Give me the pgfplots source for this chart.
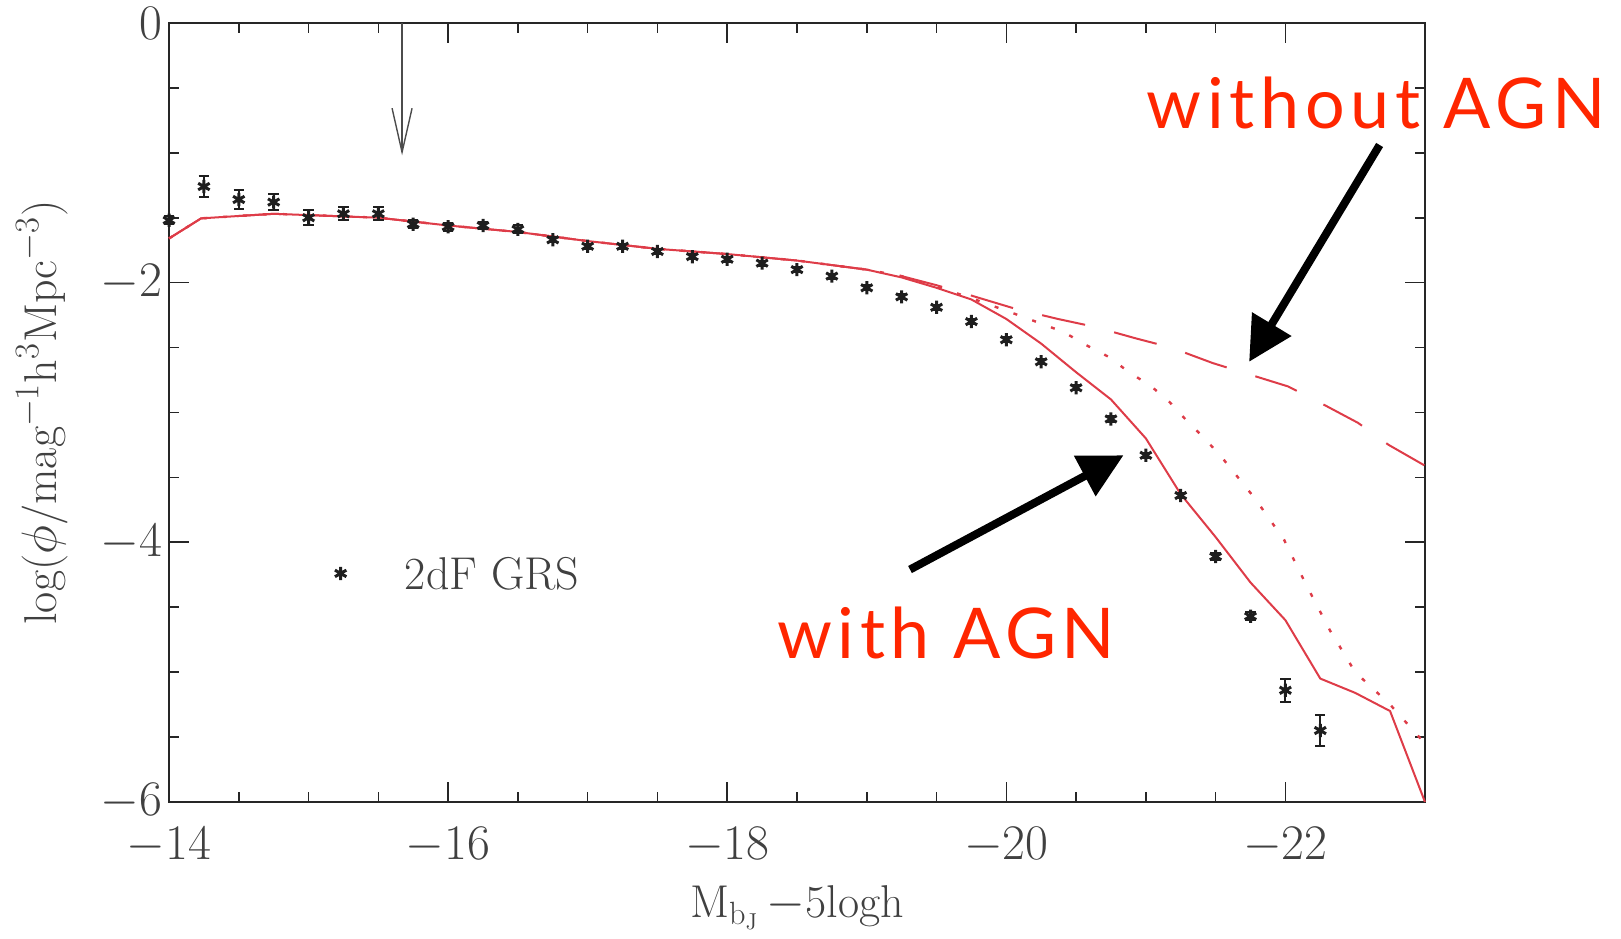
\documentclass[border=0pt]{standalone}
\usepackage{fontspec}
\usepackage{pgfplots}
\usepackage{pgfplotstable}
\pgfplotsset{compat=1.18}
\usetikzlibrary{arrows.meta}
\newfontfamily\annotfont[LetterSpace=8]{Lato}
\definecolor{curve}{RGB}{222,60,72}
\definecolor{annot}{RGB}{255,38,0}
\definecolor{ptcol}{RGB}{30,30,30}

\pgfplotstableread{
x y e
-14.00 -1.52 0.03
-14.25 -1.26 0.08
-14.50 -1.36 0.07
-14.75 -1.38 0.06
-15.00 -1.50 0.06
-15.25 -1.47 0.05
-15.50 -1.47 0.05
-15.75 -1.55 0.03
-16.00 -1.57 0.03
-16.25 -1.56 0.03
-16.50 -1.59 0.03
-16.75 -1.67 0.02
-17.00 -1.72 0.02
-17.25 -1.72 0.02
-17.50 -1.76 0.02
-17.75 -1.80 0.02
-18.00 -1.82 0.02
-18.25 -1.85 0.02
-18.50 -1.90 0.02
-18.75 -1.95 0.02
-19.00 -2.04 0.02
-19.25 -2.11 0.02
-19.50 -2.19 0.02
-19.75 -2.30 0.02
-20.00 -2.44 0.02
-20.25 -2.61 0.02
-20.50 -2.81 0.02
-20.75 -3.05 0.02
-21.00 -3.33 0.02
-21.25 -3.64 0.02
-21.50 -4.11 0.03
-21.75 -4.57 0.03
-22.00 -5.14 0.09
-22.25 -5.45 0.12
}\grs

\pgfplotstableread{
x y
-14.00 -1.66
-14.23 -1.505
-14.75 -1.47
-15.50 -1.50
-16.00 -1.56
-16.50 -1.61
-17.00 -1.68
-17.50 -1.74
-18.00 -1.78
-18.50 -1.83
-19.00 -1.90
-19.25 -1.96
-19.50 -2.04
-19.75 -2.13
-20.00 -2.28
-20.25 -2.47
-20.50 -2.69
-20.75 -2.90
-21.00 -3.20
-21.25 -3.63
-21.50 -3.96
-21.75 -4.31
-22.00 -4.60
-22.25 -5.05
-22.50 -5.16
-22.75 -5.30
-23.00 -6.00
}\withagn

\pgfplotstableread{
x y
-14.00 -1.66
-14.23 -1.505
-14.75 -1.47
-15.50 -1.50
-16.00 -1.56
-16.50 -1.61
-17.00 -1.68
-17.50 -1.74
-18.00 -1.78
-18.50 -1.83
-19.00 -1.90
-19.25 -1.95
-19.50 -2.02
-19.75 -2.10
-20.06 -2.20
-20.37 -2.28
-20.63 -2.34
-20.93 -2.43
-21.18 -2.50
-21.48 -2.62
-21.72 -2.70
-22.02 -2.80
-22.24 -2.92
-22.52 -3.08
-22.74 -3.25
-23.00 -3.41
}\withoutagn

\pgfplotstableread{
x y
-14.00 -1.66
-14.23 -1.505
-14.75 -1.47
-15.50 -1.50
-16.00 -1.56
-16.50 -1.61
-17.00 -1.68
-17.50 -1.74
-18.00 -1.78
-18.50 -1.83
-19.00 -1.90
-19.25 -1.95
-19.50 -2.03
-19.75 -2.12
-20.06 -2.24
-20.41 -2.38
-20.57 -2.48
-20.73 -2.57
-20.88 -2.69
-21.04 -2.80
-21.17 -2.92
-21.29 -3.06
-21.42 -3.20
-21.54 -3.34
-21.66 -3.50
-21.78 -3.66
-21.99 -3.98
-22.15 -4.33
-22.32 -4.68
-22.50 -5.00
-22.75 -5.25
-23.00 -5.55
}\middle

\begin{document}
\begin{tikzpicture}
\begin{axis}[
  scale only axis, width=628pt, height=389.5pt,
  x dir=reverse, xmin=-23, xmax=-14, ymin=-6, ymax=0,
  xtick={-14,-16,-18,-20,-22}, ytick={0,-2,-4,-6},
  minor x tick num=3, minor y tick num=3,
  tick align=inside, xtick pos=both, ytick pos=both,
  major tick length=10pt, minor tick length=5pt,
  axis line style={line width=1.2pt, black!85},
  every tick/.style={black!85, line width=0.8pt},
  tick label style={font=\fontsize{23}{27}\selectfont, text=black!75},
  xticklabel style={anchor=north, yshift=-9pt},
  label style={font=\fontsize{23}{27}\selectfont, text=black!75},
  xlabel={M$_{\mathrm{b}_\mathrm{J}}$\,$-$5logh},
  ylabel={log($\phi$/mag$^{-1}$h$^{3}$Mpc$^{-3}$)},
  xlabel style={at={(rel axis cs:0.5,-0.136)}, anchor=center},
  ylabel style={at={(rel axis cs:-0.1012,0.5)}, anchor=center},
  clip=false,
]
\addplot[curve, line width=1pt] table[x=x,y=y] {\withagn};
\addplot[curve, line width=1pt, dash pattern=on 22pt off 15pt] table[x=x,y=y] {\withoutagn};
\addplot[curve, line width=1.2pt, dash pattern=on 2pt off 8pt] table[x=x,y=y] {\middle};
\addplot[only marks, mark=asterisk, mark size=3.3pt, color=ptcol, mark options={line width=1.5pt},
  error bars/.cd, y dir=both, y explicit,
  error mark options={rotate=90, mark size=2.6pt, line width=1pt}, error bar style={line width=1pt}]
  table[x=x,y=y,y error=e] {\grs};
\addplot[only marks, mark=asterisk, mark size=3.3pt, color=ptcol, mark options={line width=1.5pt}]
  coordinates {(-15.23,-4.24)};
\node[anchor=west, font=\fontsize{23}{27}\selectfont, text=black!75] at (axis cs:-15.64,-4.24) {2dF GRS};
\draw[black!70, line width=0.7pt, -{Straight Barb[length=22pt,width=10pt]}]
  (axis cs:-15.67,0) -- (axis cs:-15.67,-1.02);
\node[text=annot, font=\annotfont\fontsize{35}{42}\selectfont] at (axis cs:-22.65,-0.62) {without AGN};
\node[text=annot, font=\annotfont\fontsize{35}{42}\selectfont] at (axis cs:-19.57,-4.70) {with AGN};
\draw[black, line width=4pt, -{Triangle[length=22pt,width=22pt]}]
  (axis cs:-22.675,-0.94) -- (axis cs:-21.74,-2.61);
\draw[black, line width=4pt, -{Triangle[length=22pt,width=22pt]}]
  (axis cs:-19.31,-4.21) -- (axis cs:-20.84,-3.33);
\coordinate (bbSW) at (rel axis cs:-0.1346,-0.1759);
\coordinate (bbNE) at (rel axis cs:1.1561,1.0295);
\end{axis}
\pgfresetboundingbox
\path (bbSW) rectangle (bbNE);
\end{tikzpicture}
\end{document}
